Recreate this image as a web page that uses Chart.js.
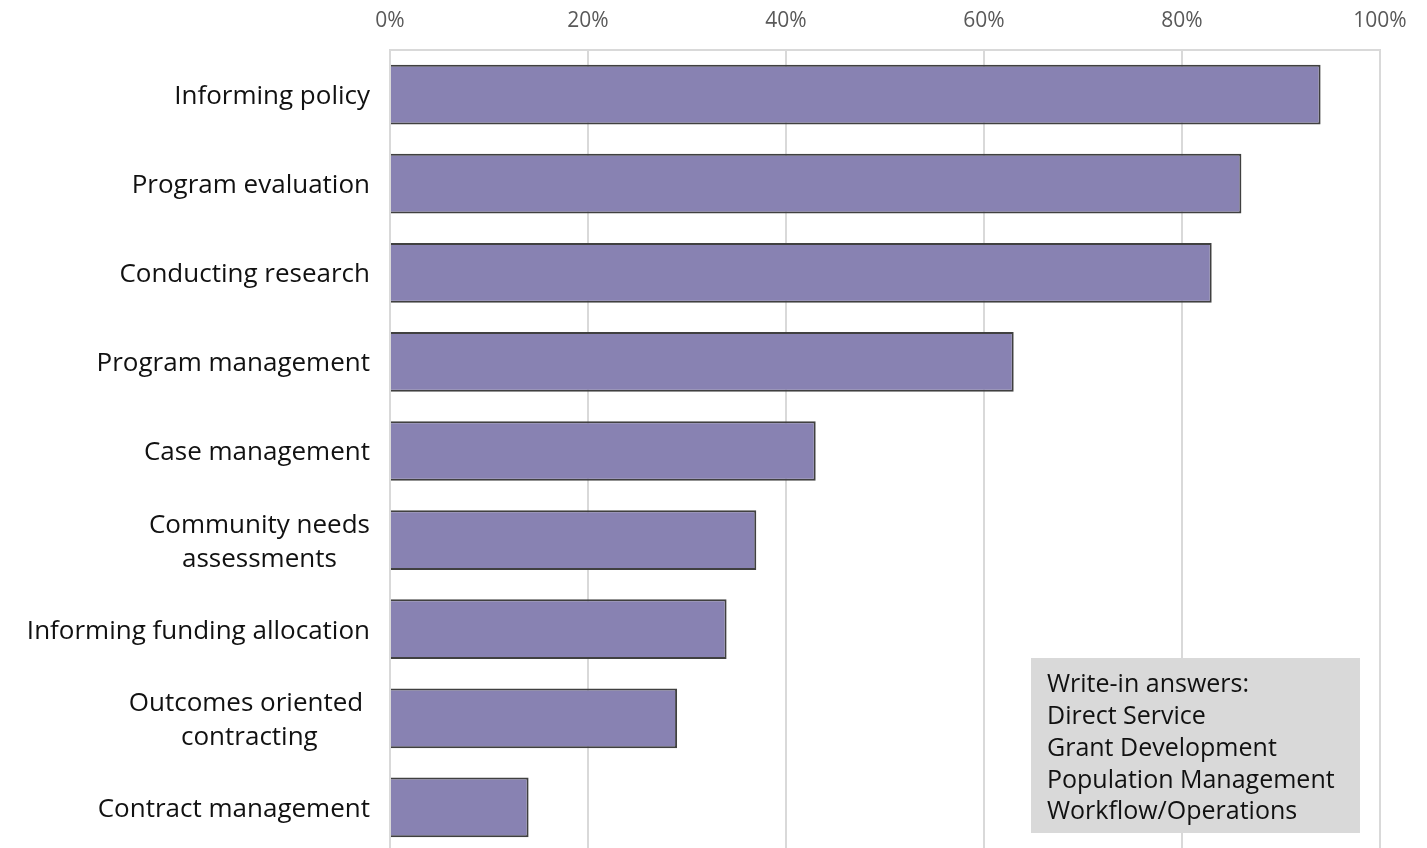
<!DOCTYPE html>
<html lang="en">
<head>
  <meta charset="UTF-8">
  <title>Data use by activity</title>
  <script src="https://cdn.jsdelivr.net/npm/chart.js"></script>
  <style>
    html, body { margin: 0; padding: 0; overflow: hidden; background: #fff; }
    canvas { display: block; }
  </style>
</head>
<body>
  <canvas id="useChart" width="1427" height="860"></canvas>

<script>
  // categories, top to bottom
  const activities = [
    'Informing policy',
    'Program evaluation',
    'Conducting research',
    'Program management',
    'Case management',
    ['Community needs', 'assessments'],
    'Informing funding allocation',
    ['Outcomes oriented ', 'contracting'],
    'Contract management'
  ];
  // share of respondents (%)
  const shares = [94, 86, 83, 63, 43, 37, 34, 29, 14];
  const xTicks = [0, 20, 40, 60, 80, 100];
  const writeIns = [
    'Write-in answers:',
    'Direct Service',
    'Grant Development',
    'Population Management',
    'Workflow/Operations'
  ];

  const FONT = '"Open Sans", Lato, sans-serif';

  // category labels: block right-aligned to the axis, lines centred inside it
  const catLabels = {
    id: 'catLabels',
    afterDraw(chart) {
      const ctx = chart.ctx;
      const scale = chart.scales.y;
      const right = scale.right - 20;
      const lh = 34;
      ctx.save();
      ctx.font = '26px ' + FONT;
      ctx.fillStyle = '#111';
      ctx.textBaseline = 'middle';
      ctx.textAlign = 'center';
      activities.forEach((lab, i) => {
        const lines = Array.isArray(lab) ? lab : [lab];
        const w = Math.max(...lines.map(l => ctx.measureText(l).width));
        const cy = scale.getPixelForTick(i) + 2;
        lines.forEach((l, j) => {
          ctx.fillText(l, right - w / 2, cy + (j - (lines.length - 1) / 2) * lh);
        });
      });
      ctx.restore();
    }
  };

  // grey note box in the lower right of the plot
  const notePlugin = {
    id: 'noteBox',
    afterDraw(chart) {
      const ctx = chart.ctx;
      const x = 1031, y = 658, w = 329, h = 175;
      ctx.save();
      ctx.fillStyle = '#d9d9d9';
      ctx.fillRect(x, y, w, h);
      ctx.fillStyle = '#111';
      ctx.font = '25px ' + FONT;
      ctx.textBaseline = 'middle';
      ctx.textAlign = 'left';
      writeIns.forEach((line, i) => ctx.fillText(line, x + 16, y + 27 + i * 31.8));
      ctx.restore();
    }
  };

  new Chart(document.getElementById('useChart'), {
    type: 'bar',
    data: {
      labels: activities,
      datasets: [{
        data: shares,
        backgroundColor: '#8882b2',
        borderColor: '#404040',
        borderWidth: 2,
        categoryPercentage: 1,
        barPercentage: 0.67
      }]
    },
    options: {
      indexAxis: 'y',
      responsive: false,
      animation: false,
      layout: { padding: { left: 0, right: 47, top: 0, bottom: 8 } },
      plugins: { legend: { display: false }, tooltip: { enabled: false } },
      scales: {
        x: {
          position: 'top',
          min: 0,
          max: 100,
          afterBuildTicks: axis => { axis.ticks = xTicks.map(v => ({ value: v })); },
          afterFit: axis => { axis.height = 50; },
          grid: { color: '#d9d9d9', lineWidth: 2, drawTicks: false },
          border: { display: true, color: '#d9d9d9', width: 2 },
          ticks: {
            padding: 16,
            color: '#595959',
            font: { family: FONT, size: 21 },
            callback: v => v + '%'
          }
        },
        y: {
          afterFit: axis => { axis.width = 390; },
          grid: { display: false, drawTicks: false },
          border: { display: false },
          ticks: { display: false }
        }
      }
    },
    plugins: [catLabels, notePlugin]
  });
</script>
</body>
</html>
